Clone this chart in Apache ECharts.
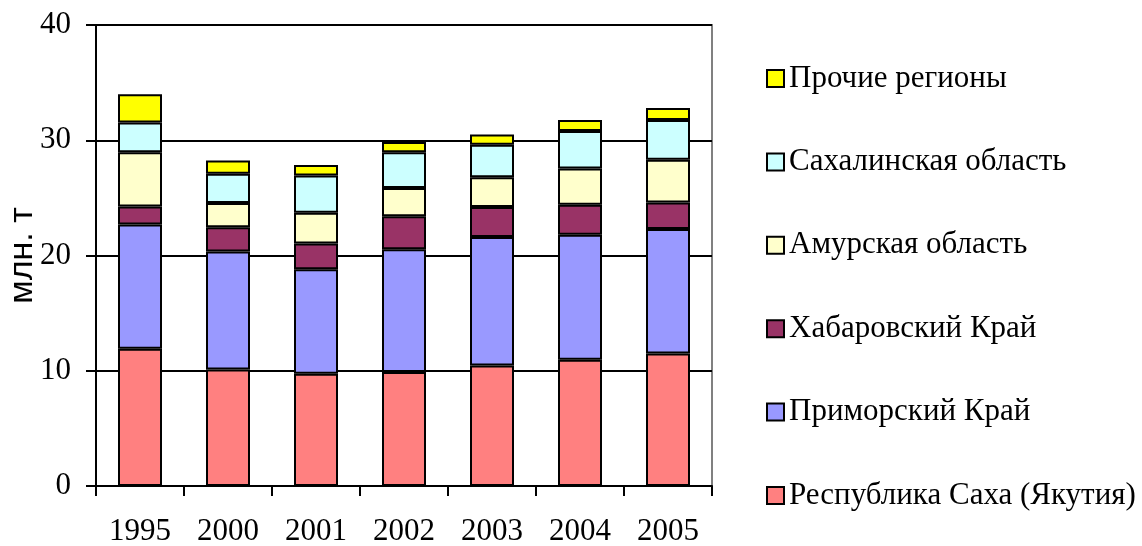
<!DOCTYPE html>
<html>
<head>
<meta charset="utf-8">
<script src="https://cdn.jsdelivr.net/npm/echarts@6/dist/echarts.min.js"></script>
<style>
html,body{margin:0;padding:0;background:#fff;}
#chart{width:1142px;height:546px;}
</style>
</head>
<body>
<div id="chart"></div>
<script>
const years = ['1995','2000','2001','2002','2003','2004','2005'];
const seriesNames = ['Республика Саха (Якутия)','Приморский Край','Хабаровский Край','Амурская область','Сахалинская область','Прочие регионы'];
const saha      = [11.9, 10.1, 9.75, 9.9, 10.45, 10.95, 11.5];
const primorsky = [10.8, 10.25, 9.05, 10.65, 11.15, 10.85, 10.8];
const khabarovsk= [1.55, 2.1, 2.25, 2.85, 2.6, 2.6, 2.3];
const amur      = [4.7, 2.1, 2.65, 2.45, 2.6, 3.15, 3.7];
const sakhalin  = [2.6, 2.55, 3.25, 3.1, 2.8, 3.25, 3.45];
const other     = [2.45, 1.15, 0.9, 0.9, 0.9, 0.95, 1.05];
const yTicks = [0, 10, 20, 30, 40];
const yAxisName = 'млн. т';

const values = [saha, primorsky, khabarovsk, amur, sakhalin, other];
const colors = ['#FF8080','#9999FF','#993366','#FFFFCC','#CCFFFF','#FFFF00'];

const chart = echarts.init(document.getElementById('chart'));
chart.setOption({
  animation: false,
  backgroundColor: '#ffffff',
  grid: {left: 96, right: 430, top: 25, bottom: 60, show: true, borderColor: '#808080', borderWidth: 2, backgroundColor: 'transparent', containLabel: false, outerBoundsMode: 'none'},
  legend: {
    orient: 'vertical', left: 761, top: 58,
    itemWidth: 17, itemHeight: 17, itemGap: 52.4,
    icon: 'rect',
    data: seriesNames.slice().reverse(),
    textStyle: {fontFamily: 'Liberation Serif', fontSize: 31, color: '#000', lineHeight: 30}
  },
  xAxis: {
    type: 'category', data: years,
    axisLine: {lineStyle: {color: '#000', width: 2}},
    axisTick: {show: true, length: 10, alignWithLabel: false, lineStyle: {color: '#000', width: 2}},
    axisLabel: {fontFamily: 'Liberation Serif', fontSize: 31, color: '#000', margin: 30}
  },
  yAxis: {
    type: 'value', min: yTicks[0], max: yTicks[yTicks.length-1], interval: 10,
    name: yAxisName, nameLocation: 'middle', nameRotate: 90, nameGap: 56, nameMoveOverlap: false,
    nameTextStyle: {fontFamily: 'Liberation Sans', fontSize: 34, color: '#000'},
    axisLine: {show: true, lineStyle: {color: '#000', width: 2}},
    axisTick: {show: true, length: 10, lineStyle: {color: '#000', width: 2}},
    axisLabel: {fontFamily: 'Liberation Serif', fontSize: 31, color: '#000', margin: 25},
    splitLine: {show: true, lineStyle: {color: '#000', width: 2}}
  },
  series: seriesNames.map((n, i) => ({
    name: n, type: 'bar', stack: 'total', barWidth: '50%',
    data: values[i],
    itemStyle: {color: colors[i], borderColor: '#000', borderWidth: 2}
  }))
});
</script>
</body>
</html>
